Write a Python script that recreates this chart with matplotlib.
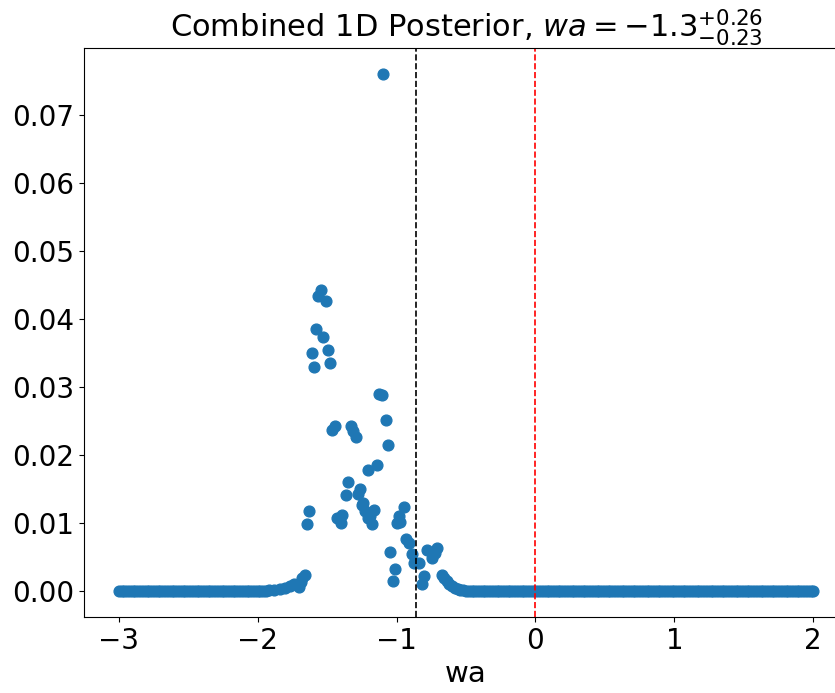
import numpy as np
import matplotlib
matplotlib.use("Agg")
import matplotlib.pyplot as plt

# posterior values, peak region only
peak_x = [-1.92, -1.88, -1.84, -1.80, -1.77, -1.74, -1.70, -1.69, -1.68, -1.66,
          -1.642, -1.627, -1.609, -1.592, -1.577, -1.568, -1.544, -1.528, -1.509,
          -1.493, -1.481, -1.462, -1.445, -1.430, -1.401, -1.394, -1.361, -1.347,
          -1.329, -1.310, -1.293, -1.274, -1.262, -1.250, -1.238, -1.226, -1.207,
          -1.202, -1.190, -1.178, -1.159, -1.142, -1.123, -1.106, -1.094, -1.075,
          -1.058, -1.046, -1.025, -1.010, -0.998, -0.986, -0.974, -0.950, -0.931,
          -0.907, -0.890, -0.878, -0.842, -0.818, -0.806, -0.782, -0.746, -0.722,
          -0.710, -0.674, -0.66, -0.64, -0.62, -0.60, -0.58, -0.56, -0.54, -0.52,
          -0.50]
peak_y = [0.0001, 0.0002, 0.0003, 0.0005, 0.0007, 0.0010, 0.0006, 0.0014, 0.0019, 0.0024,
          0.0099, 0.0117, 0.0350, 0.0330, 0.0385, 0.0434, 0.0442, 0.0374, 0.0427,
          0.0354, 0.0335, 0.0237, 0.0243, 0.0107, 0.0100, 0.0112, 0.0141, 0.0160,
          0.0243, 0.0235, 0.0227, 0.0142, 0.0150, 0.0127, 0.0129, 0.0117, 0.0178,
          0.0107, 0.0110, 0.0098, 0.0119, 0.0186, 0.0290, 0.0288, 0.0760, 0.0251,
          0.0215, 0.0057, 0.0015, 0.0032, 0.0100, 0.0110, 0.0102, 0.0124, 0.0077,
          0.0071, 0.0054, 0.0041, 0.0041, 0.0010, 0.0022, 0.0060, 0.0049, 0.0056,
          0.0063, 0.0024, 0.0020, 0.0015, 0.0011, 0.0008, 0.0005, 0.0003, 0.0002, 0.0001,
          0.00005]

# flat part of the grid, where the posterior reads as zero
grid = np.linspace(-3, 2, 251)
flat_x = grid[(grid < -1.93) | (grid > -0.49)]
flat_y = np.zeros(len(flat_x))

wa_best = -0.862
wa_ref = 0.0
title = r'Combined 1D Posterior, $wa = -1.3^{+0.26}_{-0.23}$'

fig = plt.figure(figsize=(8.35, 6.93), dpi=100)
ax = fig.add_axes([0.1006, 0.1097, 0.915, 0.821])

xs = np.concatenate([flat_x, peak_x])
ys = np.concatenate([flat_y, peak_y])
ax.scatter(xs, ys, s=60, color='#1f77b4')
ax.axvline(wa_best, color='black', linestyle='--', linewidth=1.2)
ax.axvline(wa_ref, color='red', linestyle='--', linewidth=1.2)

ax.set_title(title, fontsize=22)
ax.set_xlabel('wa', fontsize=21)
ax.tick_params(labelsize=20)

fig.savefig('out.png', dpi=100)
